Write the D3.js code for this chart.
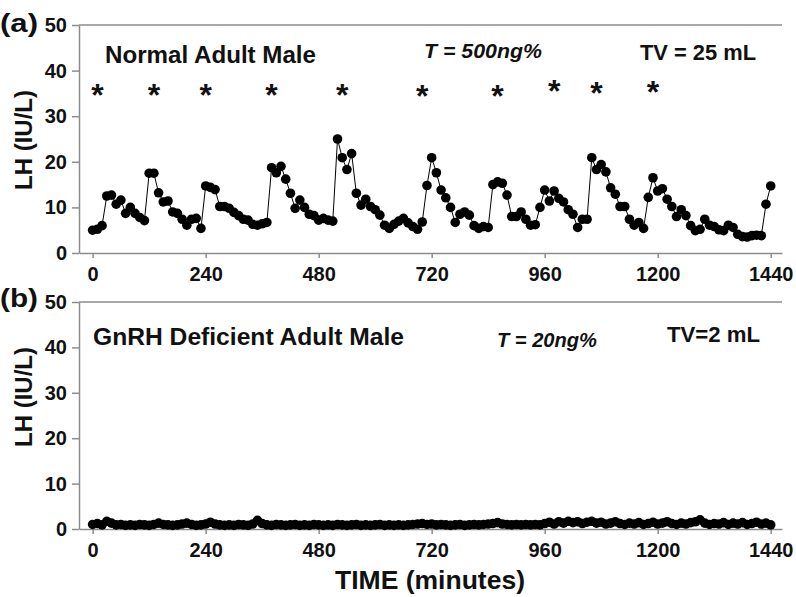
<!DOCTYPE html>
<html><head><meta charset="utf-8">
<script src="https://cdn.jsdelivr.net/npm/d3@7"></script>
<style>
body{margin:0;background:#fff;}
svg{display:block;font-family:"Liberation Sans",Arial,sans-serif;}
</style></head>
<body><svg id="c" width="796" height="597"></svg>
<script>
// time grid (minutes), one sample every 10 minutes
const times = d3.range(0, 1441, 10);
const xTicks = [0, 240, 480, 720, 960, 1200, 1440];
const yTicks = [0, 10, 20, 30, 40, 50];

// (a) Normal adult male LH (IU/L)
const lhNormal = [
 5.0,5.2,6.0,12.5,12.7,10.7,11.6,8.7,10.0,8.7,7.8,7.1,17.5,17.5,13.2,11.2,11.4,9.0,8.7,7.4,
 6.1,7.4,7.6,5.4,14.7,14.4,13.9,10.2,10.2,9.8,8.9,8.2,7.4,7.2,6.3,6.1,6.4,6.7,18.7,17.6,
 19.0,16.2,13.1,9.8,11.6,10.0,8.5,8.2,7.2,7.6,7.2,7.0,25.0,20.9,18.3,21.8,13.1,10.5,11.8,10.2,
 9.5,8.3,6.1,5.4,6.3,7.0,7.6,6.6,5.8,5.2,6.8,14.8,20.9,17.6,13.8,12.1,10.0,6.7,8.5,9.0,
 8.3,6.0,5.4,5.8,5.6,15.0,15.6,15.3,12.7,8.0,8.0,9.0,7.4,6.1,6.2,10.0,13.8,11.4,13.6,12.0,
 11.2,9.5,8.5,5.6,7.4,7.4,20.9,18.3,19.4,17.8,14.3,12.9,10.2,10.2,7.4,6.1,6.7,5.4,12.2,16.5,
 13.6,14.1,11.8,10.2,8.0,9.5,8.2,6.0,4.9,5.2,7.4,6.1,5.8,5.1,4.9,6.1,5.6,4.1,3.6,3.5,
 3.8,3.9,3.8,10.7,14.7
];
// (b) GnRH deficient adult male LH (IU/L)
const lhDeficient = [
 1.0,1.2,0.9,1.7,1.3,0.9,1.0,0.8,0.9,0.8,1.0,0.9,0.8,1.0,1.3,1.0,0.9,0.8,0.9,1.1,
 1.3,1.0,0.8,0.9,1.1,1.5,1.1,0.9,0.8,0.9,0.8,1.0,0.9,0.8,1.1,1.9,1.2,0.9,0.8,1.0,
 0.9,0.8,0.9,1.0,0.8,0.9,0.8,1.0,0.9,0.8,0.9,0.8,1.0,0.9,0.8,0.9,1.0,0.8,0.9,0.8,
 0.9,1.0,0.8,0.9,0.8,0.9,0.8,0.9,1.0,1.1,1.2,1.0,1.1,0.9,1.0,0.9,0.8,0.9,1.0,0.8,
 0.9,1.0,0.9,1.0,1.1,1.2,1.4,1.1,1.0,0.9,1.0,0.9,1.0,0.9,1.0,0.9,1.2,1.5,1.1,1.6,
 1.3,1.7,1.4,1.6,1.2,1.5,1.7,1.3,1.5,1.1,1.3,1.6,1.2,1.0,1.3,1.1,1.4,1.0,1.2,1.5,
 1.1,1.3,1.6,1.2,1.0,1.3,1.1,1.4,1.6,2.0,1.3,1.0,1.2,1.1,1.4,1.0,1.3,1.1,1.4,1.0,
 1.2,1.5,1.1,1.3,0.9
];
// pulse markers (asterisks) in panel (a)
const pulseTimes = [10, 130, 240, 380, 530, 700, 860, 980, 1070, 1190];
const pulseLevel = [35.5, 35.5, 35.5, 35.5, 35.5, 35.3, 35.3, 36.4, 36.0, 36.2];

const svg = d3.select("#c");
const axisColor = "#8c8c8c";
const ink = "#111";

const x = d3.scaleLinear().domain([-29, 1464]).range([79, 782]);

function panel(cfg) {
  const y = d3.scaleLinear().domain([0, 50]).range([cfg.y0, cfg.y1]);
  const g = svg.append("g");

  // top frame line
  g.append("line").attr("x1", 79).attr("x2", 782).attr("y1", y(50)).attr("y2", y(50))
    .attr("stroke", axisColor).attr("stroke-width", 1.5);

  const ya = g.append("g").attr("transform", "translate(79,0)")
    .call(d3.axisLeft(y).tickValues(yTicks).tickFormat(d3.format("d"))
      .tickSize(7).tickSizeOuter(0).tickPadding(5));
  const xa = g.append("g").attr("transform", `translate(0,${cfg.y0})`)
    .call(d3.axisBottom(x).tickValues(xTicks).tickFormat(d3.format("d"))
      .tickSize(5).tickSizeOuter(0).tickPadding(9));
  [ya, xa].forEach(a => {
    a.selectAll("path,line").attr("stroke", axisColor).attr("stroke-width", 1.5);
    a.selectAll("text").attr("fill", ink).style("font-size", "20px").style("font-weight", "bold")
      .style("font-family", '"Liberation Sans",Arial,sans-serif');
  });

  // y title
  g.append("text").attr("transform", `translate(32,${cfg.labelY}) rotate(-90)`)
    .attr("text-anchor", "middle").attr("fill", ink)
    .style("font-size", "24px").style("font-weight", "bold").text("LH (IU/L)");

  // panel letter
  g.append("text").attr("x", 0).attr("y", cfg.letterY).attr("fill", ink)
    .attr("textLength", 38).attr("lengthAdjust", "spacingAndGlyphs")
    .style("font-size", "26px").style("font-weight", "bold").text(cfg.letter);

  // annotations
  cfg.notes.forEach(n => {
    g.append("text").attr("x", n.x).attr("y", n.y).attr("fill", ink)
      .attr("textLength", n.w).attr("lengthAdjust", "spacingAndGlyphs")
      .style("font-size", n.size + "px").style("font-weight", "bold")
      .style("font-style", n.italic ? "italic" : "normal").text(n.t);
  });

  const pts = times.map((t, i) => ({ t, v: cfg.data[i] })).filter(d => d.v !== undefined);
  g.append("path").datum(pts)
    .attr("d", d3.line().x(d => x(d.t)).y(d => y(d.v)))
    .attr("fill", "none").attr("stroke", "#000").attr("stroke-width", 1);
  g.selectAll("circle").data(pts).enter().append("circle")
    .attr("cx", d => x(d.t)).attr("cy", d => y(d.v)).attr("r", 4.8).attr("fill", "#000");
  return y;
}

const yA = panel({
  y0: 253, y1: 25, labelY: 140, letter: "(a)", letterY: 32, data: lhNormal,
  notes: [
    { t: "Normal Adult Male", x: 105, y: 63, w: 211, size: 24 },
    { t: "T = 500ng%", x: 424, y: 58, w: 118, size: 21, italic: true },
    { t: "TV = 25 mL", x: 640, y: 60, w: 116, size: 22 }
  ]
});
svg.append("g").selectAll("text").data(pulseTimes).enter().append("text")
  .attr("x", d => x(d)).attr("y", (d, i) => yA(pulseLevel[i]) + 15)
  .attr("text-anchor", "middle").attr("fill", ink)
  .style("font-size", "32px").style("font-weight", "bold").text("*");

panel({
  y0: 529, y1: 302, labelY: 397, letter: "(b)", letterY: 307, data: lhDeficient,
  notes: [
    { t: "GnRH Deficient Adult Male", x: 93, y: 345, w: 311, size: 23 },
    { t: "T = 20ng%", x: 497, y: 347, w: 100, size: 21, italic: true },
    { t: "TV=2 mL", x: 667, y: 342, w: 93, size: 22 }
  ]
});

svg.append("text").attr("x", 430).attr("y", 589).attr("text-anchor", "middle").attr("fill", ink)
  .attr("textLength", 190).attr("lengthAdjust", "spacingAndGlyphs")
  .style("font-size", "25px").style("font-weight", "bold").text("TIME (minutes)");
</script></body></html>
